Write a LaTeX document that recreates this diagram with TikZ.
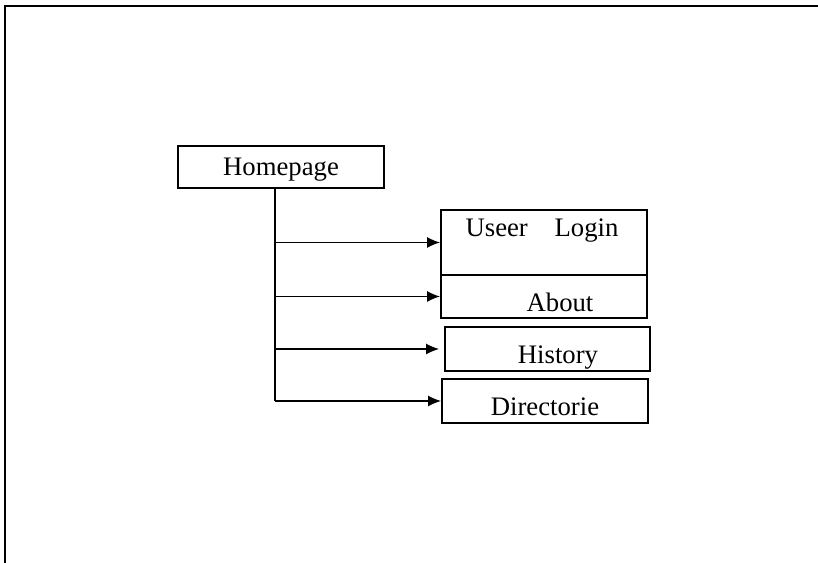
\documentclass[tikz,border=0pt]{standalone}
\usepackage{fontspec}
\setmainfont{Liberation Serif}
\usetikzlibrary{positioning}
\usetikzlibrary{arrows.meta}
\tikzset{
    pagebox/.style = {rectangle, draw=black, line width=1.1pt, minimum width=4.12cm, inner sep=0pt},
    pagetext/.style = {anchor=base, inner sep=0pt},
    edgen/.style = {-{Latex[length=0.26cm,width=0.22cm]}, line width=0.7pt},
    trunkline/.style = {line width=0.7pt},
    frameline/.style = {line width=1.2pt},
    every picture/.style={font issue=\fontsize{15.2}{18}},
    font issue/.style={execute at begin picture={#1\selectfont}
  }
}
\begin{document}
\begin{tikzpicture}
\useasboundingbox (0,0) rectangle (16.36,11.26);
% outer frame (top and left only)
\draw[frameline] (0.10,0) -- (0.10,11.14) -- (16.36,11.14);
%
\node[pagebox, minimum height=0.84cm, text height=0.45cm, text depth=0.115cm] at (5.62, 7.92) (home) {Homepage};
\node[pagebox, minimum height=1.30cm] at (10.88, 6.41) (login) {};
\node[pagebox, minimum height=0.86cm] at (10.88, 5.33) (about) {};
\node[pagebox, minimum width=4.10cm, minimum height=0.88cm] at (10.95, 4.28) (history) {};
\node[pagebox, minimum height=0.88cm] at (10.90, 3.24) (dir) {};
%
\node[pagetext] at (10.84, 6.52) (logintext) {Useer\quad{}Login};
\node[pagetext] at (11.20, 5.02) (abouttext) {About};
\node[pagetext] at (11.16, 3.98) (historytext) {History};
\node[pagetext] at (10.90, 2.94) (dirtext) {Directorie};
%
\coordinate (trunk) at ([xshift=-0.12cm]home.south);
\draw[trunkline] (trunk) -- (trunk |- dir.west);
\draw[edgen] (trunk |- login.west) -- (login.west);
\draw[edgen] (trunk |- about.west) -- (about.west);
\draw[edgen] (trunk |- history.west) -- ([xshift=-0.1cm]history.west);
\draw[edgen] (trunk |- dir.west) -- (dir.west);

\end{tikzpicture}
\end{document}
